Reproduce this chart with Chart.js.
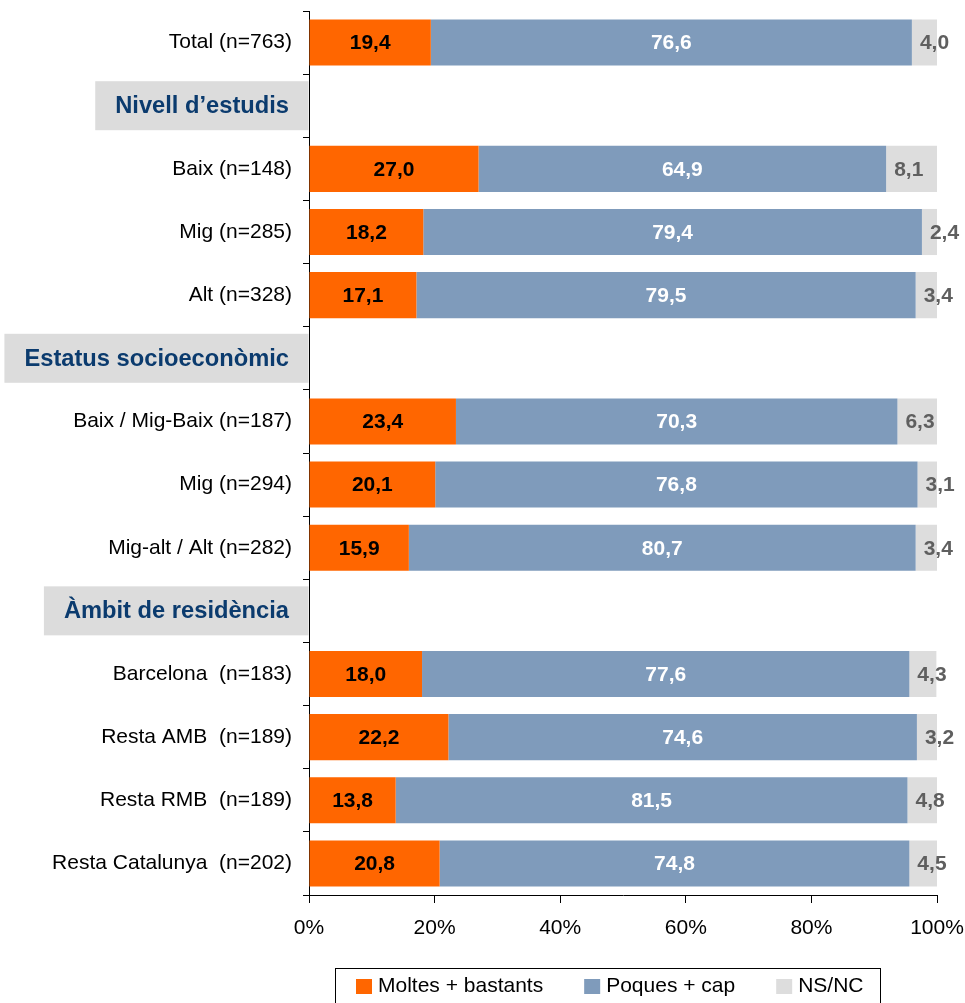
<!DOCTYPE html>
<html>
<head>
<meta charset="utf-8">
<script src="https://cdn.jsdelivr.net/npm/chart.js@4.4.0/dist/chart.umd.min.js"></script>
<style>
  html, body { margin: 0; padding: 0; background: #fff; }
  #wrap { width: 965px; height: 1003px; }
</style>
</head>
<body>
<div id="wrap"><canvas id="chart" width="965" height="1003"></canvas></div>
<script>
// Row labels (header rows are group titles with no bars)
const categories = [
  'Total (n=763)',
  'Nivell d’estudis',
  'Baix (n=148)',
  'Mig (n=285)',
  'Alt (n=328)',
  'Estatus socioeconòmic',
  'Baix / Mig-Baix (n=187)',
  'Mig (n=294)',
  'Mig-alt / Alt (n=282)',
  'Àmbit de residència',
  'Barcelona  (n=183)',
  'Resta AMB  (n=189)',
  'Resta RMB  (n=189)',
  'Resta Catalunya  (n=202)'
];
const headerRows = [1, 5, 9];

const seriesNames = ['Moltes + bastants', 'Poques + cap', 'NS/NC'];
const moltes = [19.4, null, 27.0, 18.2, 17.1, null, 23.4, 20.1, 15.9, null, 18.0, 22.2, 13.8, 20.8];
const poques = [76.6, null, 64.9, 79.4, 79.5, null, 70.3, 76.8, 80.7, null, 77.6, 74.6, 81.5, 74.8];
const nsnc   = [4.0, null, 8.1, 2.4, 3.4, null, 6.3, 3.1, 3.4, null, 4.3, 3.2, 4.8, 4.5];

const xTicks = [0, 20, 40, 60, 80, 100];

const barColors = ['#FF6600', '#7F9BBB', '#DDDDDD'];
const labelColors = ['#000000', '#FFFFFF', '#5F5F5F'];
const FONT = '"Liberation Sans", Arial, sans-serif';

// value labels on the bars
const barLabels = {
  id: 'barLabels',
  afterDatasetsDraw(chart) {
    const ctx = chart.ctx;
    ctx.save();
    ctx.font = 'bold 21px ' + FONT;
    ctx.textBaseline = 'middle';
    chart.data.datasets.forEach((ds, i) => {
      const meta = chart.getDatasetMeta(i);
      meta.data.forEach((bar, j) => {
        const v = ds.data[j];
        if (v == null) return;
        const txt = v.toFixed(1).replace('.', ',');
        ctx.fillStyle = labelColors[i];
        if (i === 2) {
          ctx.textAlign = 'left';
          ctx.fillText(txt, bar.base + 8, bar.y + 1);
        } else {
          ctx.textAlign = 'center';
          ctx.fillText(txt, (bar.x + bar.base) / 2, bar.y + 1);
        }
      });
    });
    ctx.restore();
  }
};

// grey boxes with the group titles
const groupHeaders = {
  id: 'groupHeaders',
  afterDraw(chart) {
    const ctx = chart.ctx;
    const y = chart.scales.y;
    ctx.save();
    ctx.font = 'bold 23.7px ' + FONT;
    ctx.textBaseline = 'middle';
    ctx.textAlign = 'right';
    headerRows.forEach(idx => {
      const cy = y.getPixelForValue(idx);
      const txt = categories[idx];
      const w = ctx.measureText(txt).width;
      const right = 289;
      const left = right - w - 20;
      ctx.fillStyle = '#DCDCDC';
      ctx.fillRect(left, cy - 24.5, 308.5 - left, 49);
      ctx.fillStyle = '#0B3B6E';
      ctx.fillText(txt, right, cy + 1);
    });
    ctx.restore();
  }
};

// boxed legend at the bottom
const boxLegend = {
  id: 'boxLegend',
  afterDraw(chart) {
    const ctx = chart.ctx;
    ctx.save();
    ctx.strokeStyle = '#000';
    ctx.lineWidth = 1;
    ctx.strokeRect(335.5, 968.5, 545, 60);
    ctx.font = '21px ' + FONT;
    ctx.textBaseline = 'middle';
    ctx.textAlign = 'left';
    let x = 356;
    chart.data.datasets.forEach(ds => {
      ctx.fillStyle = ds.backgroundColor;
      ctx.fillRect(x, 979, 16, 15);
      ctx.fillStyle = '#000';
      ctx.fillText(ds.label, x + 22, 986);
      x += 22 + ctx.measureText(ds.label).width + 41;
    });
    ctx.restore();
  }
};

const datasets = [moltes, poques, nsnc].map((d, i) => ({
  label: seriesNames[i],
  data: d,
  backgroundColor: barColors[i],
  borderWidth: 0,
  barPercentage: 0.73,
  categoryPercentage: 1.0
}));

new Chart(document.getElementById('chart'), {
  type: 'bar',
  data: { labels: categories, datasets: datasets },
  options: {
    indexAxis: 'y',
    responsive: false,
    animation: false,
    layout: { padding: { top: 11, right: 28, bottom: 58, left: 0 } },
    plugins: {
      legend: { display: false },
      tooltip: { enabled: false }
    },
    scales: {
      x: {
        stacked: true,
        min: 0,
        max: 100,
        afterBuildTicks: axis => { axis.ticks = xTicks.map(v => ({ value: v })); },
        afterFit: axis => {
          axis.height = 50;
          axis.paddingLeft = 0;
          axis.paddingRight = 0;
        },
        border: { display: true, color: '#000', width: 1 },
        grid: { drawOnChartArea: false, drawTicks: true, tickLength: 8, color: '#000' },
        ticks: {
          padding: 13,
          color: '#000',
          font: { family: FONT, size: 21 },
          callback: v => v + '%'
        }
      },
      y: {
        stacked: true,
        afterFit: axis => {
          axis.width = 309;
          axis.paddingTop = 0;
          axis.paddingBottom = 0;
        },
        border: { display: true, color: '#000', width: 1 },
        grid: { drawOnChartArea: false, drawTicks: true, tickLength: 6, color: '#000', offset: true },
        ticks: {
          padding: 11,
          color: '#000',
          autoSkip: false,
          font: { family: FONT, size: 21 },
          callback: function (value, index) {
            return headerRows.includes(index) ? '' : this.getLabelForValue(value);
          }
        }
      }
    }
  },
  plugins: [barLabels, groupHeaders, boxLegend]
});
</script>
</body>
</html>
